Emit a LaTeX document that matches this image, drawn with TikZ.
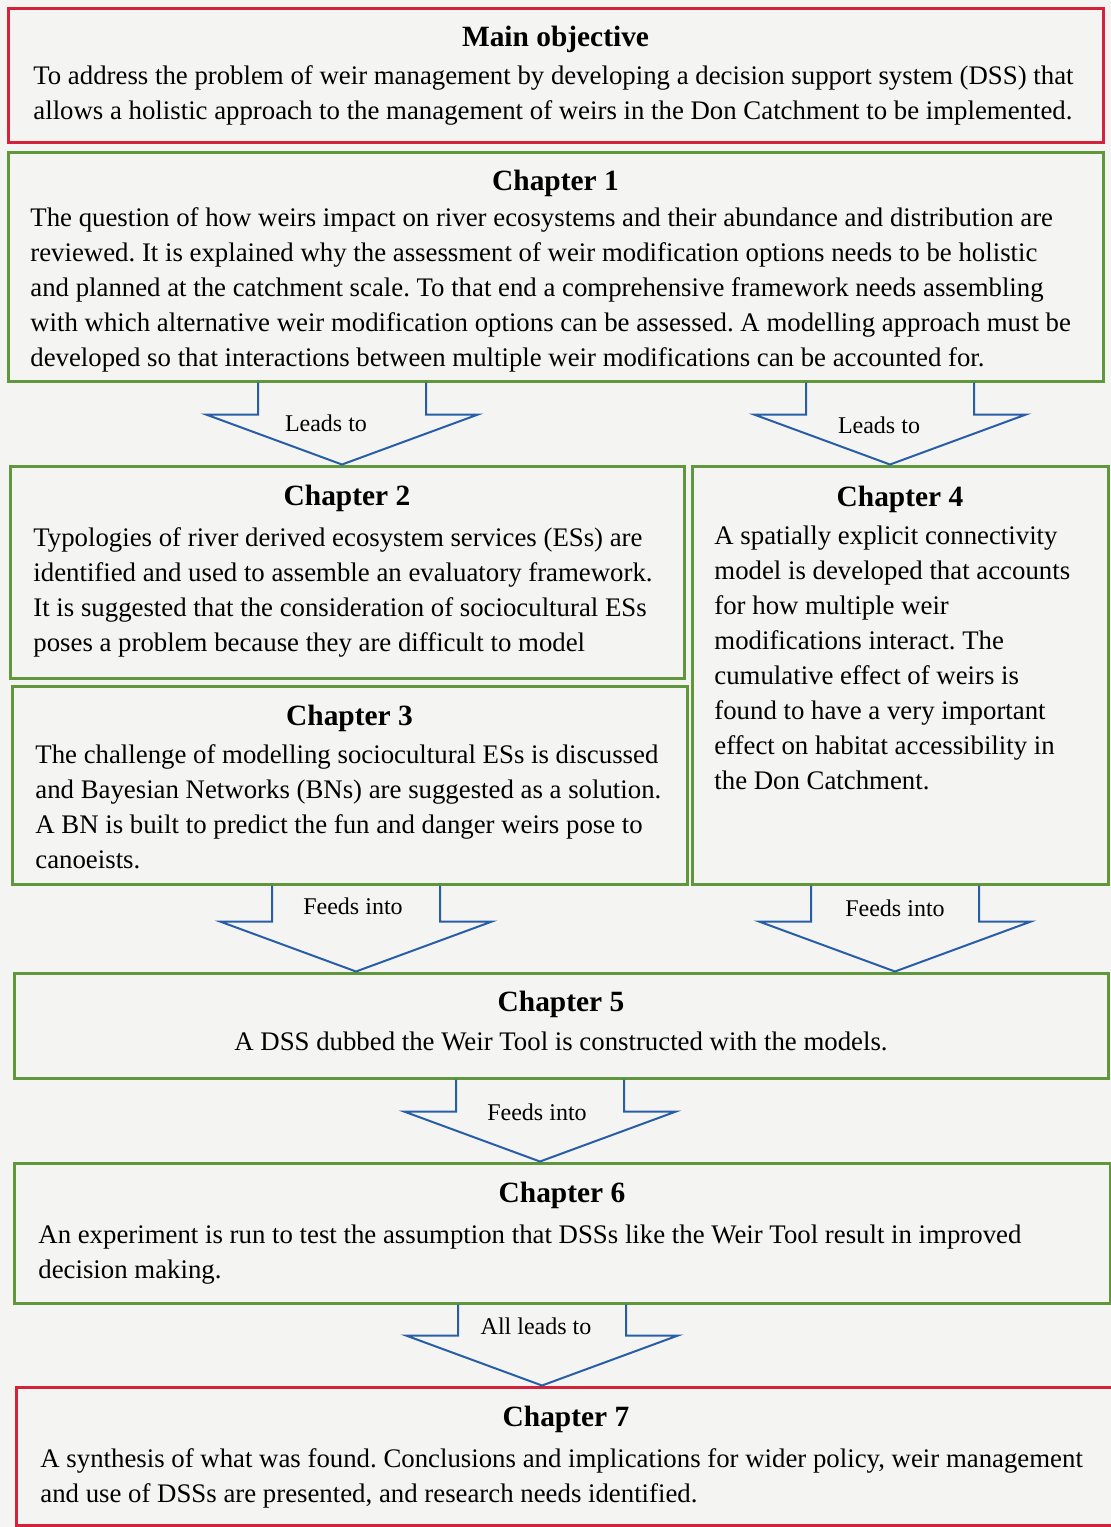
\documentclass[tikz,border=0pt]{standalone}
\usepackage{fontspec}
\setmainfont{Liberation Serif}
\usetikzlibrary{fit,calc,positioning}
\definecolor{boxred}{RGB}{212,34,58}
\definecolor{boxgreen}{RGB}{96,150,60}
\definecolor{arrowblue}{RGB}{40,94,166}
\definecolor{paper}{RGB}{244,244,242}
\begin{document}
\begin{tikzpicture}[x=0.5pt,y=-0.5pt,
  redbox/.style={draw=boxred, line width=1.5pt, inner sep=0pt},
  greenbox/.style={draw=boxgreen, line width=1.5pt, inner sep=0pt},
  heading/.style={font=\fontsize{14.7}{17.5}\selectfont\bfseries, inner sep=0pt},
  bodytext/.style={font=\fontsize{13.4}{17.5}\selectfont\frenchspacing, align=left, inner sep=0pt, anchor=north west},
  flowarrow/.style={draw=arrowblue, line width=1pt, line join=miter},
  arrowlabel/.style={font=\fontsize{12}{14}\selectfont, inner sep=0pt}]
\useasboundingbox (0,0) rectangle (1111,1527);
\fill[paper] (0,0) rectangle (1111,1527);

% boxes
\node[redbox, fit={(8,8) (1103,142)}] (objective) {};
\node[greenbox, fit={(8,152) (1103,381)}] (chone) {};
\node[greenbox, fit={(10,466) (684,678)}] (chtwo) {};
\node[greenbox, fit={(12,686) (687,884)}] (chthree) {};
\node[greenbox, fit={(692,466) (1108,884)}] (chfour) {};
\node[greenbox, fit={(14,973) (1108,1078)}] (chfive) {};
\node[greenbox, fit={(14,1163) (1110,1303)}] (chsix) {};
\node[redbox, fit={(16,1387) (1116,1525)}] (chseven) {};

% headings
\node[heading, below=9.5pt of objective.north] (objtitle) {Main objective};
\node[heading, below=9.5pt of chone.north] (chonetitle) {Chapter 1};
\node[heading, below=10pt of chtwo.north] (chtwotitle) {Chapter 2};
\node[heading, below=10pt of chthree.north] (chthreetitle) {Chapter 3};
\node[heading, below=10.5pt of chfour.north] (chfourtitle) {Chapter 4};
\node[heading, below=9.5pt of chfive.north] (chfivetitle) {Chapter 5};
\node[heading, below=10pt of chsix.north] (chsixtitle) {Chapter 6};
\node[heading, below=10pt of chseven.north] (chseventitle) {Chapter 7};

% texts
\node[bodytext] (objtext) at (33,65) {To address the problem of weir management by developing a decision support system (DSS) that\\
allows a holistic approach to the management of weirs in the Don Catchment to be implemented.};
\node[bodytext] (chonetext) at (30,207) {The question of how weirs impact on river ecosystems and their abundance and distribution are\\
reviewed. It is explained why the assessment of weir modification options needs to be holistic\\
and planned at the catchment scale. To that end a comprehensive framework needs assembling\\
with which alternative weir modification options can be assessed. A modelling approach must be\\
developed so that interactions between multiple weir modifications can be accounted for.};
\node[bodytext] (chtwotext) at (33,527) {Typologies of river derived ecosystem services (ESs) are\\
identified and used to assemble an evaluatory framework.\\
It is suggested that the consideration of sociocultural ESs\\
poses a problem because they are difficult to model};
\node[bodytext] (chthreetext) at (35,744) {The challenge of modelling sociocultural ESs is discussed\\
and Bayesian Networks (BNs) are suggested as a solution.\\
A BN is built to predict the fun and danger weirs pose to\\
canoeists.};
\node[bodytext] (chfourtext) at (714,525) {A spatially explicit connectivity\\
model is developed that accounts\\
for how multiple weir\\
modifications interact. The\\
cumulative effect of weirs is\\
found to have a very important\\
effect on habitat accessibility in\\
the Don Catchment.};
\node[bodytext, anchor=north, below=7pt of chfivetitle] (chfivetext) {A DSS dubbed the Weir Tool is constructed with the models.};
\node[bodytext] (chsixtext) at (38,1224) {An experiment is run to test the assumption that DSSs like the Weir Tool result in improved\\
decision making.};
\node[bodytext] (chseventext) at (40,1448) {A synthesis of what was found. Conclusions and implications for wider policy, weir management\\
and use of DSSs are presented, and research needs identified.};

% block arrows
\foreach \cx/\from/\to/\txt/\dx/\dy in {342/chone/chtwo/Leads to/-16/41,
    890/chone/chfour/Leads to/-11/43,
    356/chthree/chfive/Feeds into/-3/21,
    895/chfour/chfive/Feeds into/0/23,
    540/chfive/chsix/Feeds into/-3/33,
    542/chsix/chseven/All leads to/-6/22}{
  \coordinate (top) at (\cx,0 |- \from.south);
  \coordinate (tip) at (\cx,0 |- \to.north);
  \draw[flowarrow] ($(top)+(-84,0)$) |- ($(tip)+(-136,-50)$) -- (tip)
    -- ($(tip)+(136,-50)$) -| ($(top)+(84,0)$);
  \node[arrowlabel] at ($(top)+(\dx,\dy)$) {\txt};
}
\end{tikzpicture}
\end{document}
